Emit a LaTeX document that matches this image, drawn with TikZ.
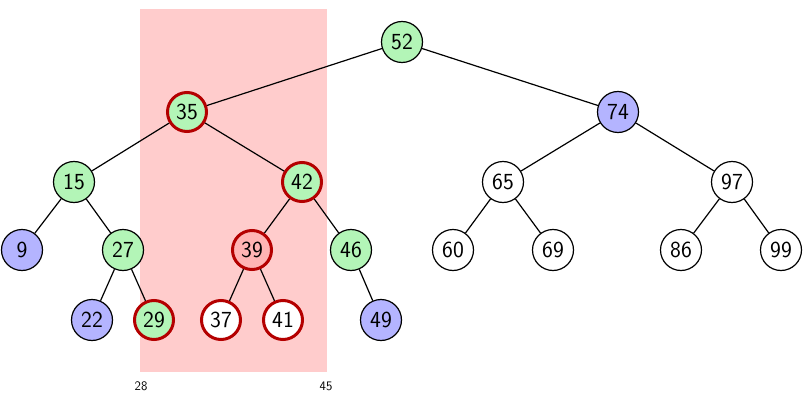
\documentclass[tikz,border=0pt]{standalone}
\usepackage{fontspec}
\setsansfont{Latin Modern Sans}
\usepackage{tikz}
\definecolor{gfill}{RGB}{179,245,183}
\definecolor{bfill}{RGB}{180,180,255}
\definecolor{rfill}{RGB}{255,180,180}
\definecolor{rangebg}{RGB}{255,204,204}
\definecolor{hot}{RGB}{180,0,0}
\begin{document}
\begin{tikzpicture}[x=1pt,y=-1pt,
  vtx/.style={circle,draw=black,line width=1.2pt,minimum size=41pt,inner sep=0pt,font=\sffamily\fontsize{23}{26}\selectfont,fill=white},
  gr/.style={fill=gfill},
  bl/.style={fill=bfill},
  hl/.style={draw=hot,line width=3pt,minimum size=39pt},
  edge/.style={line width=1.2pt},
  lbl/.style={font=\sffamily\fontsize{13}{15}\selectfont}]
\useasboundingbox (0,0) rectangle (807,396);
\fill[rangebg] (140,9) rectangle (327,372);
\node[lbl] (l28) at (141,386) {28};
\node[lbl] (l45) at (326,386) {45};
\node[vtx,gr] (n52) at (402,42) {52};
\node[vtx,gr,hl] (n35) at (187,112) {35};
\node[vtx,bl] (n74) at (618,112) {74};
\node[vtx,gr] (n15) at (74,182) {15};
\node[vtx,gr,hl] (n42) at (302,182) {42};
\node[vtx] (n65) at (503,182) {65};
\node[vtx] (n97) at (732,182) {97};
\node[vtx,bl] (n9) at (22,250) {9};
\node[vtx,gr] (n27) at (123,250) {27};
\node[vtx,hl,fill=rfill] (n39) at (252,250) {39};
\node[vtx,gr] (n46) at (351,250) {46};
\node[vtx] (n60) at (453,250) {60};
\node[vtx] (n69) at (553,250) {69};
\node[vtx] (n86) at (681,250) {86};
\node[vtx] (n99) at (781,250) {99};
\node[vtx,bl] (n22) at (92,320) {22};
\node[vtx,gr,hl] (n29) at (154,320) {29};
\node[vtx,hl] (n37) at (221,320) {37};
\node[vtx,hl] (n41) at (283,320) {41};
\node[vtx,bl] (n49) at (381,320) {49};
\foreach \a/\b in {n52/n35,n52/n74,n35/n15,n35/n42,n74/n65,n74/n97,n15/n9,n15/n27,n42/n39,n42/n46,n65/n60,n65/n69,n97/n86,n97/n99,n27/n22,n27/n29,n39/n37,n39/n41,n46/n49}
  \draw[edge] (\a) -- (\b);
\end{tikzpicture}
\end{document}
